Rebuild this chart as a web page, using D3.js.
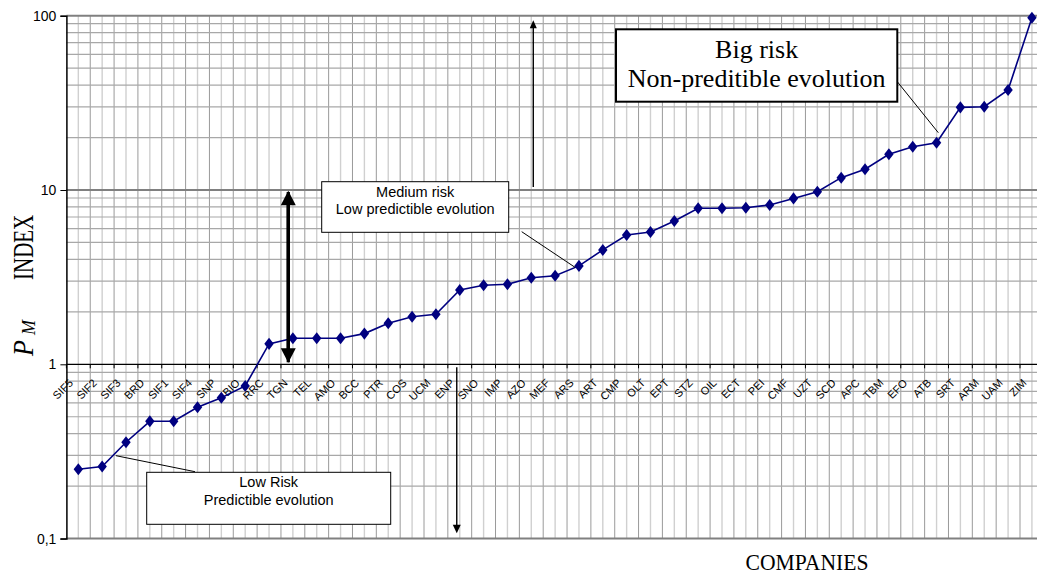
<!DOCTYPE html>
<html>
<head>
<meta charset="utf-8">
<script src="https://cdn.jsdelivr.net/npm/d3@7"></script>
<style>
  html, body { margin: 0; padding: 0; background: #fff; }
  svg { display: block; }
</style>
</head>
<body>
<svg id="chart" width="1037" height="574"></svg>
<script>
const categories = ["SIF5","SIF2","SIF3","BRD","SIF1","SIF4","SNP","BIO","RRC","TGN","TEL","AMO","BCC","PTR","COS","UCM","ENP","SNO","IMP","AZO","MEF","ARS","ART","CMP","OLT","EPT","STZ","OIL","ECT","PEI","CMF","UZT","SCD","APC","TBM","EFO","ATB","SRT","ARM","UAM","ZIM"];
const pmIndex = [0.25,0.259,0.357,0.471,0.471,0.567,0.643,0.751,1.31,1.41,1.41,1.41,1.5,1.72,1.875,1.936,2.67,2.84,2.88,3.14,3.22,3.67,4.53,5.52,5.74,6.64,7.85,7.85,7.91,8.2,8.95,9.78,11.77,13.15,16.03,17.72,18.68,29.8,30.06,37.5,97.4];
const yTickValues = [0.1, 1, 10, 100];
const yTickLabels = ["0,1", "1", "10", "100"];

(function () {
const svg = d3.select("#chart");
const pLeft = 66.4, pTop = 15.7, pBottom = 538.6, step = 23.84;
const pRight = pLeft + step * categories.length;

const x = d3.scaleBand().domain(categories).range([pLeft, pRight]).padding(0);
const xc = c => x(c) + x.bandwidth() / 2;
const y = d3.scaleLog().domain([0.1, 100]).range([pBottom, pTop]);

const SANS = "'Liberation Sans', Arial, sans-serif";
const SERIF = "'Liberation Serif', 'Times New Roman', serif";

// vertical grid: centers (light) then boundaries (darker)
const grid = svg.append("g");
grid.selectAll("line.vc").data(categories).enter().append("line")
  .attr("x1", d => xc(d)).attr("x2", d => xc(d))
  .attr("y1", pTop).attr("y2", pBottom)
  .attr("stroke", "#d0d0d0").attr("stroke-width", 1.4);
const bounds = categories.slice(1).map(c => x(c)).concat([pRight]);
grid.selectAll("line.vb").data(bounds).enter().append("line")
  .attr("x1", d => d).attr("x2", d => d)
  .attr("y1", pTop).attr("y2", pBottom)
  .attr("stroke", "#9a9a9a").attr("stroke-width", 1);

// horizontal grid
const allTicks = y.ticks();
const minor = allTicks.filter(v => !yTickValues.some(m => Math.abs(m - v) < 1e-9));
grid.selectAll("line.hm").data(minor).enter().append("line")
  .attr("x1", pLeft).attr("x2", 1037)
  .attr("y1", d => y(d)).attr("y2", d => y(d))
  .attr("stroke", "#a8a8a8").attr("stroke-width", 1.2);
grid.selectAll("line.hM").data([0.1, 10, 100]).enter().append("line")
  .attr("x1", pLeft).attr("x2", 1037)
  .attr("y1", d => y(d)).attr("y2", d => y(d))
  .attr("stroke", "#808080").attr("stroke-width", 2);

// category axis crossing at 1
const xAxis = d3.axisBottom(x).tickSizeInner(4).tickSizeOuter(0).tickFormat("");
const xg = svg.append("g").attr("transform", `translate(0,${y(1)})`).call(xAxis);
xg.select(".domain").attr("stroke", "#000").attr("stroke-width", 1.2).attr("d", `M${pLeft},0H1037`);
xg.selectAll(".tick").attr("transform", d => `translate(${x(d)},0)`);
xg.selectAll(".tick line").attr("stroke", "#000");

// category labels
svg.append("g").selectAll("text").data(categories).enter().append("text")
  .attr("transform", d => `translate(${xc(d) - 4.6},${y(1) + 19.3}) rotate(-45)`)
  .attr("text-anchor", "end")
  .attr("font-family", SANS).attr("font-size", 11).attr("fill", "#000")
  .text(d => d);

// y axis
const yAxis = d3.axisLeft(y).tickValues(yTickValues).tickSize(6)
  .tickFormat((d, i) => yTickLabels[i]);
const yg = svg.append("g").attr("transform", `translate(${pLeft},0)`).call(yAxis);
yg.select(".domain").attr("stroke", "#000").attr("stroke-width", 1.5);
yg.selectAll(".tick line").attr("stroke", "#000");
yg.selectAll(".tick text").attr("font-family", SANS).attr("font-size", 14).attr("fill", "#000").attr("x", -10);

// series line + markers
const line = d3.line().x((d, i) => xc(categories[i])).y(d => y(d));
svg.append("path").datum(pmIndex).attr("d", line)
  .attr("fill", "none").attr("stroke", "#000080").attr("stroke-width", 1.6);
svg.append("g").selectAll("path").data(pmIndex).enter().append("path")
  .attr("d", d3.symbol().type(d3.symbolDiamond).size(42))
  .attr("transform", (d, i) => `translate(${xc(categories[i])},${y(d)}) scale(1.35,1)`)
  .attr("fill", "#000080");

// annotations
const ann = svg.append("g");
function arrow(xp, y1, y2, w, headLen, headW, dir) {
  ann.append("line").attr("x1", xp).attr("x2", xp).attr("y1", y1).attr("y2", y2 - dir * headLen * 0.5)
    .attr("stroke", "#000").attr("stroke-width", w);
  ann.append("path")
    .attr("d", `M${xp},${y2} L${xp - headW / 2},${y2 - dir * headLen} L${xp + headW / 2},${y2 - dir * headLen} Z`)
    .attr("fill", "#000");
}
const bx = xc("TGN") - 4.6;
arrow(bx, y(1) - 2, y(10) + 0.7, 3.3, 14.5, 15, -1);
arrow(bx, y(10) + 2, y(1) - 1.6, 3.3, 14.5, 15, 1);
const ux = xc("AZO") + 2;
arrow(ux, y(10) - 3, pTop + 4.5, 1.4, 8, 7, -1);
const dxp = xc("ENP") - 3;
arrow(dxp, y(1) + 3, pBottom - 5.3, 1.4, 8.5, 8, 1);

const leaders = [
  [116, 455.7, 195, 471.7],
  [521.7, 231.7, 575, 267.3],
  [897.3, 81.7, 938.3, 132.7]
];
ann.selectAll("line.ld").data(leaders).enter().append("line")
  .attr("x1", d => d[0]).attr("y1", d => d[1]).attr("x2", d => d[2]).attr("y2", d => d[3])
  .attr("stroke", "#000").attr("stroke-width", 1);

const boxes = [
  {x: 146.7, y: 472.3, w: 244, h: 52, sw: 1, font: SANS, size: 14.5, lines: ["Low Risk", "Predictible evolution"], ty: [486.5, 504.5]},
  {x: 321.7, y: 181.7, w: 187, h: 50.6, sw: 1, font: SANS, size: 14.5, lines: ["Medium risk", "Low predictible evolution"], ty: [196.5, 214]},
  {x: 616, y: 29.3, w: 281.3, h: 72.4, sw: 2, font: SERIF, size: 26, lines: ["Big risk", "Non-preditible evolution"], ty: [58, 87]}
];
boxes.forEach(b => {
  ann.append("rect").attr("x", b.x).attr("y", b.y).attr("width", b.w).attr("height", b.h)
    .attr("fill", "#fff").attr("stroke", "#000").attr("stroke-width", b.sw);
  b.lines.forEach((t, i) => {
    ann.append("text").attr("x", b.x + b.w / 2).attr("y", b.ty[i])
      .attr("text-anchor", "middle").attr("font-family", b.font).attr("font-size", b.size)
      .attr("fill", "#000").text(t);
  });
});

svg.append("text").attr("x", 0).attr("y", 0)
  .attr("transform", "translate(807,570) scale(0.9,1)")
  .attr("text-anchor", "middle").attr("font-family", SERIF).attr("font-size", 24)
  .attr("fill", "#000").text("COMPANIES");

const yt = svg.append("g").attr("transform", "translate(33,356) rotate(-90)");
yt.append("text").attr("x", 0).attr("y", 0)
  .attr("transform", "scale(0.9,1)")
  .attr("font-family", SERIF).attr("font-size", 29).attr("font-style", "italic").attr("fill", "#000").text("P");
yt.append("text").attr("x", 21).attr("y", 1.5)
  .attr("font-family", SERIF).attr("font-size", 18).attr("font-style", "italic").attr("fill", "#000").text("M");
yt.append("text").attr("x", 76).attr("y", 0)
  .attr("transform", "translate(76,0) scale(0.7,1) translate(-76,0)")
  .attr("font-family", SERIF).attr("font-size", 30).attr("fill", "#000").text("INDEX");
})();
</script>
</body>
</html>
